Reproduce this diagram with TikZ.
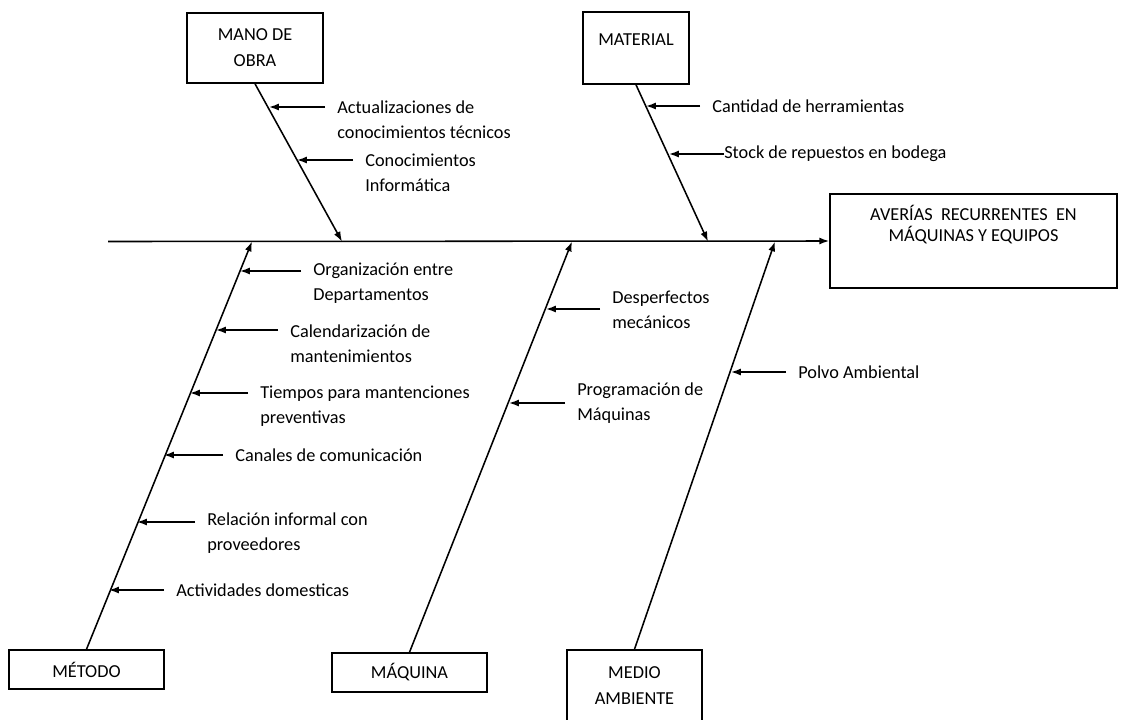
\documentclass[tikz,border=0pt]{standalone}
\usepackage{fontspec}
\setmainfont{Carlito}
\usepackage{tikz}
\usetikzlibrary{arrows.meta}

\begin{document}
\begin{tikzpicture}[
    x=0.025cm, y=-0.025cm,
    causa/.style={
        draw,
        line width=1.1pt,
        align=center,
        font=\fontsize{13}{18.5}\selectfont
    },
    efecto/.style={
        draw,
        line width=1.1pt,
        align=center,
        minimum width=7.175cm,
        minimum height=2.35cm,
        font=\fontsize{13}{15}\selectfont
    },
    lbl/.style={
        anchor=west,
        align=left,
        inner xsep=0.3cm,
        inner ysep=0pt,
        font=\fontsize{13}{17.8}\selectfont
    },
    espina/.style={
        -{Latex[length=7pt,width=5pt]},
        line width=1.1pt
    },
    rib/.style={
        -{Latex[length=7pt,width=5pt]},
        line width=1.1pt
    }
]
\useasboundingbox (0,0) rectangle (1121,719);

% efecto y espina central
\node[efecto] (averias) at (973.5,241)
{AVER\'IAS\ \ RECURRENTES\ \ EN\\M\'AQUINAS Y EQUIPOS\\[10pt]\mbox{}};
\coordinate (cola) at (108,241.5);
\draw[espina] (cola) -- (averias.west);

% causas
\node[causa, minimum width=3.4cm, minimum height=1.75cm] (mano) at (255,48)
{MANO DE\\OBRA};
\node[causa, minimum width=2.65cm, minimum height=1.8cm] (material) at (636,48)
{MATERIAL\\[-6pt]\mbox{}};
\node[causa, minimum width=3.875cm, minimum height=0.975cm] (metodo) at (86.5,669.5)
{M\'ETODO};
\node[causa, minimum width=3.875cm, minimum height=0.975cm] (maquina) at (409.5,672.5)
{M\'AQUINA};
\node[causa, minimum width=3.375cm, minimum height=1.8cm] (medio) at (634.5,686)
{MEDIO\\AMBIENTE};

\coordinate (manotip) at (342,241.5);
\coordinate (materialtip) at (708,241.5);
\coordinate (metodotip) at (252,241.5);
\coordinate (maquinatip) at (572,241.5);
\coordinate (mediotip) at (775,241.5);

\draw[espina] (mano.south) -- (manotip);
\draw[espina] (material.south) -- (materialtip);
\draw[espina] (metodo.north) -- (metodotip);
\draw[espina] (maquina.north) -- (maquinatip);
\draw[espina] (medio.north) -- (mediotip);

% mano de obra
\coordinate (t1) at (269,107);
\coordinate (t2) at (297,160);
\node[lbl] (l1) at (325,119.5) {Actualizaciones de\\conocimientos t\'ecnicos};
\node[lbl] (l2) at (353,172.5) {Conocimientos\\Inform\'atica};
\draw[rib] (l1.west |- t1) -- (t1);
\draw[rib] (l2.west |- t2) -- (t2);

% material
\coordinate (t3) at (646,106);
\coordinate (t4) at (669,154);
\node[lbl] (l3) at (700,106) {Cantidad de herramientas};
\node[lbl, inner xsep=0pt] (l4) at (724,154) {Stock de repuestos en bodega};
\draw[rib] (l3.west |- t3) -- (t3);
\draw[rib] (l4.west |- t4) -- (t4);

% metodo
\coordinate (t5) at (240,271);
\coordinate (t6) at (216,330);
\coordinate (t7) at (190,393);
\coordinate (t8) at (164,455);
\coordinate (t9) at (137,522);
\coordinate (t10) at (109,590);
\node[lbl] (l5) at (301,283) {Organizaci\'on entre\\Departamentos};
\node[lbl] (l6) at (278,343.5) {Calendarizaci\'on de\\mantenimientos};
\node[lbl] (l7) at (248,406) {Tiempos para mantenciones\\preventivas};
\node[lbl] (l8) at (223,455) {Canales de comunicaci\'on};
\node[lbl] (l9) at (195,533.5) {Relaci\'on informal con\\proveedores};
\node[lbl] (l10) at (164,590) {Actividades domesticas};
\foreach \i in {5,...,10}
    \draw[rib] (l\i.west |- t\i) -- (t\i);

% maquina
\coordinate (t11) at (546,309);
\coordinate (t12) at (509,403);
\node[lbl] (l11) at (600,310) {Desperfectos\\mec\'anicos};
\node[lbl] (l12) at (565,403.5) {Programaci\'on de\\M\'aquinas};
\draw[rib] (l11.west |- t11) -- (t11);
\draw[rib] (l12.west |- t12) -- (t12);

% medio ambiente
\coordinate (t13) at (731,372);
\node[lbl] (l13) at (786,372) {Polvo Ambiental};
\draw[rib] (l13.west |- t13) -- (t13);

\end{tikzpicture}
\end{document}
